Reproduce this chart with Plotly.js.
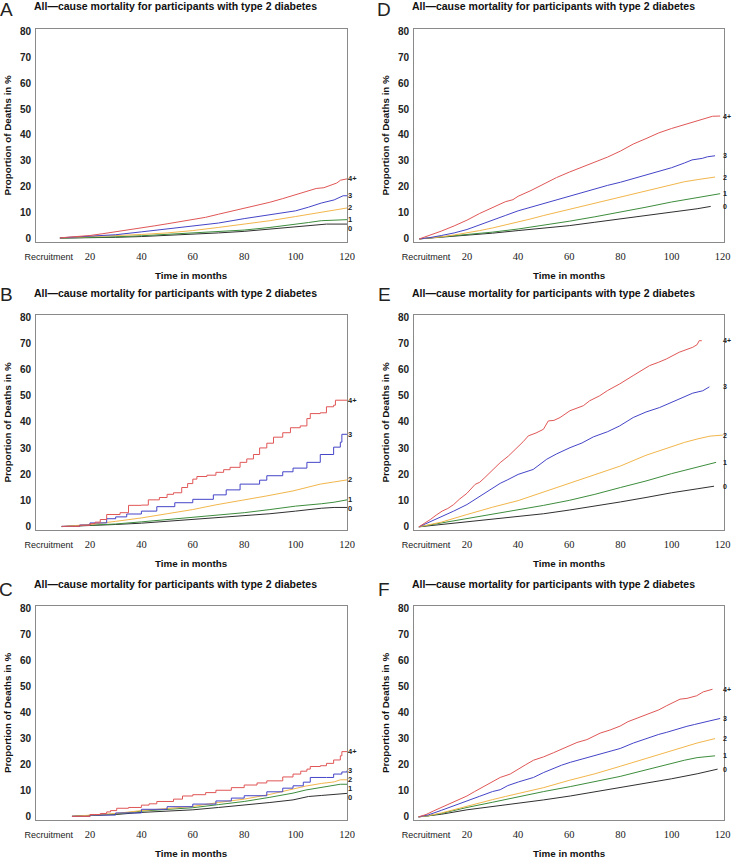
<!DOCTYPE html>
<html>
<head>
<meta charset="utf-8">
<script src="https://cdn.plot.ly/plotly-3.0.1.min.js"></script>
<style>html,body{margin:0;padding:0;background:#fff;}#chart{width:733px;height:858px;}</style>
</head>
<body>
<div id="chart"></div>
<script>
// ---------- data (months since baseline, % deaths) ----------
const MONTH_TICKS = [4, 20, 40, 60, 80, 100, 120];
const MONTH_TICK_TEXT = ['Recruitment', '20', '40', '60', '80', '100', '120'];
const PCT_TICKS = [0, 10, 20, 30, 40, 50, 60, 70, 80];
const GROUPS = ['4+', '3', '2', '1', '0'];
const PANEL_LETTERS = ['A', 'B', 'C', 'D', 'E', 'F'];
const TITLE_TEXT = 'All\u2014cause mortality for participants with type 2 diabetes';
const X_TITLE = 'Time in months';
const Y_TITLE = 'Proportion of Deaths in %';

// Panel A
const A_4p = [[8.3,0.4],[15,0.8],[20,1.3],[25,2.0],[30,2.7],[35,3.4],[40,4.2],[45,5.0],[50,5.8],[55,6.6],[60,7.4],[65,8.3],[70,9.5],[75,10.6],[80,11.8],[85,13.0],[90,14.1],[95,15.5],[100,17.0],[105,18.7],[108,19.4],[111,19.7],[114,20.6],[116,21.5],[117.5,22.6],[120,23.1]];
const A_3 = [[8.3,0.4],[20,1.0],[30,1.6],[40,2.7],[50,3.8],[60,5.0],[70,6.1],[80,7.8],[90,9.2],[95,9.9],[100,10.8],[105,12.2],[110,13.8],[115,15.0],[117,15.8],[118.5,16.6],[120,16.6]];
const A_2 = [[8.3,0.4],[20,0.8],[30,1.2],[40,1.7],[50,2.3],[60,3.2],[70,4.4],[80,5.7],[90,7.0],[100,8.6],[105,9.4],[110,10.3],[115,11.1],[118,11.7],[120,11.9]];
const A_1 = [[8.3,0.3],[20,0.5],[30,0.8],[40,1.2],[50,1.7],[60,2.3],[70,2.8],[80,3.4],[90,4.4],[100,5.5],[105,6.3],[110,7.0],[115,7.3],[120,7.4]];
const A_0 = [[8.3,0.3],[20,0.4],[30,0.6],[40,0.9],[50,1.3],[60,1.8],[70,2.3],[80,2.9],[90,3.7],[100,4.5],[110,5.4],[112,5.7],[120,5.7]];

// Panel B
const B_4p = [[9,0.2],[16,0.6],[20,1.2],[22,1.8],[24,2.8],[26.5,4.7],[31.7,5.4],[35,8.2],[40,8.3],[42.7,10.3],[47,11.2],[50,12.4],[52.5,13.0],[55.7,15.0],[58,16.5],[60,18.2],[61.6,19.2],[65.5,19.7],[69,20.8],[72,21.8],[74.5,22.7],[78.4,24.6],[81,25.9],[83.6,27.6],[86,30.1],[88.8,31.9],[91.4,34.2],[95,35.9],[98,37.8],[101.8,38.5],[104.4,41.3],[105.7,43.2],[109.6,43.5],[112,45.8],[114.8,46.4],[115.5,48.3],[120,48.3]];
const B_3 = [[9,0.2],[16,0.7],[20,1.5],[26.5,3.1],[30,3.8],[34.3,4.9],[40,6.0],[46,7.7],[53,9.2],[60,10.5],[68,12.2],[73,14.1],[78.4,16.3],[86,17.8],[88.8,19.5],[95,21.0],[99,22.4],[104.4,24.6],[109.6,27.6],[114.8,30.4],[117.4,32.3],[118,35.3],[120,35.3]];
const B_2 = [[9,0.1],[20,0.9],[30,2.1],[40,3.4],[50,5.0],[60,6.6],[69,8.4],[80,10.2],[88.8,11.8],[99,13.7],[104,15.0],[109.6,16.3],[114.8,17.1],[118.7,17.9],[120,17.9]];
const B_1 = [[9,0.1],[20,0.5],[30,1.1],[40,1.9],[50,2.8],[60,3.8],[70,4.6],[80,5.4],[90,6.6],[100,7.9],[110,8.8],[115,9.4],[120,10.3]];
const B_0 = [[9,0.1],[20,0.4],[30,0.9],[40,1.4],[50,2.1],[60,2.8],[70,3.4],[80,4.1],[90,5.0],[100,6.0],[105,6.6],[110,7.1],[115,7.4],[120,7.4]];

// Panel C
const C_4p = [[13,0.2],[20,0.9],[24,1.3],[26.5,1.9],[28,2.4],[30.4,3.3],[35,3.6],[40,4.5],[43,5.0],[46,5.9],[52.5,6.8],[56,8.0],[60,8.5],[65,9.3],[69,10.2],[75,11.2],[80,12.2],[85,13.0],[88.8,13.8],[95,15.3],[99,16.4],[102,17.5],[104.4,18.3],[105.7,19.3],[109.6,19.6],[112,20.5],[114.8,21.8],[117.4,23.4],[118,25.0],[120,25.0]];
const C_3 = [[13,0.2],[20,0.7],[30,1.5],[40,2.9],[50,3.9],[60,4.9],[69,6.1],[75,7.2],[80,8.1],[88.8,9.6],[95,11.0],[99,11.9],[103,13.3],[105.7,15.1],[112,15.1],[114.8,16.4],[118,17.2],[120,17.7]];
const C_2 = [[13,0.2],[20,0.6],[30,1.3],[40,2.4],[50,3.2],[60,4.0],[70,5.5],[80,6.8],[90,8.6],[99,10.6],[104,11.8],[110,12.8],[115,13.4],[117.4,14.2],[120,14.2]];
const C_1 = [[13,0.2],[20,0.5],[30,1.1],[40,2.2],[50,2.8],[60,3.5],[70,4.7],[80,5.9],[90,7.5],[99,9.1],[104,10.3],[110,11.2],[115,11.9],[117.4,12.5],[120,12.5]];
const C_0 = [[13,0.2],[20,0.4],[30,0.9],[40,1.7],[50,2.2],[60,2.7],[70,3.6],[80,4.5],[90,5.5],[99,6.5],[105,7.8],[110,8.2],[115,8.6],[120,9.0]];

// Panel D
const D_4p = [[1.4,0],[5,1.2],[10,3.0],[15,5.0],[20,7.2],[25,9.8],[30,12.2],[35,14.3],[38,15.1],[40,16.4],[45,18.6],[50,21.2],[55,23.6],[60,25.7],[65,27.6],[70,29.4],[75,31.5],[80,33.8],[85,36.5],[90,38.6],[95,40.8],[100,42.5],[105,44.0],[110,45.3],[113,46.5],[116,47.2],[119,47.3]];
const D_3 = [[1.4,0],[5,0.4],[10,1.3],[15,2.3],[20,3.6],[25,5.3],[30,7.2],[35,9.0],[40,10.8],[45,12.2],[50,13.6],[55,15.0],[60,16.3],[65,17.7],[70,19.3],[75,20.6],[80,21.8],[85,23.2],[90,24.6],[95,26.0],[100,27.4],[105,29.2],[108,30.4],[112,31.0],[114,31.6],[117,32.0]];
const D_2 = [[1.4,0],[5,0.3],[10,0.8],[15,1.5],[20,2.3],[25,3.2],[30,4.2],[35,5.3],[40,6.5],[45,7.7],[50,9.0],[55,10.2],[60,11.4],[65,12.5],[70,13.6],[75,14.8],[80,16.0],[85,17.3],[90,18.5],[95,19.8],[100,21.0],[105,22.0],[110,22.8],[114,23.4],[117,23.8]];
const D_1 = [[1.4,0],[10,0.7],[20,1.5],[30,2.6],[40,3.8],[50,5.2],[60,6.8],[70,8.5],[80,10.3],[90,12.2],[100,14.2],[110,15.8],[119,17.4]];
const D_0 = [[1.4,0],[10,0.6],[20,1.3],[30,2.2],[40,3.2],[50,4.1],[60,5.1],[70,6.4],[80,7.7],[90,9.0],[100,10.2],[110,11.6],[115.3,12.5]];

// Panel E
const E_4p = [[1.2,0],[3,1.0],[5.7,2.8],[8,4.5],[10.3,6.0],[12.5,7.0],[14.8,8.5],[17,10.5],[20,12.8],[23.2,16.2],[25,17.0],[27,18.8],[29,20.7],[31,22.6],[33,24.5],[36.2,27.0],[38,28.6],[40,30.6],[42,32.5],[44,34.7],[47,35.8],[49.9,37.2],[51.8,40.4],[54,40.6],[56.4,41.7],[60.3,44.3],[65.5,46.2],[68,48.1],[71.9,50.0],[75,52.0],[79.7,54.5],[85,57.7],[88,59.6],[91.4,61.5],[95,62.8],[97.9,64.0],[103,66.6],[105,67.4],[108.3,68.5],[110,69.5],[110.8,71.0],[111.8,71.0]];
const E_3 = [[1.2,0],[5.7,1.9],[10,3.8],[14.8,6.0],[20,8.5],[24,11.0],[27.8,13.6],[33,16.6],[36,18.0],[40,20.0],[45.9,21.9],[51.2,25.8],[55,27.8],[60.3,30.2],[65,32.0],[69.4,34.3],[75,36.3],[79.7,38.5],[85,41.7],[90,43.8],[95.3,45.5],[100,47.5],[103,48.7],[108.3,51.0],[112.2,51.9],[114.8,53.4]];
const E_2 = [[1.2,0],[10,1.8],[20,4.7],[30,7.5],[40,10.0],[50,13.3],[60,16.4],[70,19.8],[80,23.2],[90,27.3],[100,30.6],[105,32.2],[110,33.5],[115,34.6],[120,35.0]];
const E_1 = [[1.2,0],[10,1.5],[20,3.2],[30,4.8],[40,6.4],[50,8.2],[60,10.1],[70,12.4],[80,15.0],[90,17.5],[100,20.3],[110,22.8],[117.4,24.6]];
const E_0 = [[1.2,0],[10,0.9],[20,2.0],[30,2.9],[40,3.8],[50,5.0],[60,6.4],[70,7.9],[80,9.5],[90,11.2],[100,13.0],[110,14.5],[116.6,15.5]];

// Panel F
const F_4p = [[1.1,0],[4,0.9],[7,2.3],[10,3.6],[14.8,5.9],[20,8.0],[23,9.7],[26.5,11.6],[30,13.5],[33,15.1],[36.9,16.4],[40.2,18.5],[43,20.0],[46,21.7],[50,23.0],[53.9,24.6],[57,26.0],[60.4,27.3],[63,28.5],[66.9,29.6],[70,31.0],[72.1,32.1],[76,33.3],[79.9,34.8],[83,36.5],[85.1,37.3],[88,38.4],[91.6,39.6],[95,41.0],[98.1,42.6],[101,44.0],[103.3,45.1],[106,45.4],[109.8,46.4],[112.4,47.9],[114,48.4],[116,48.9]];
const F_3 = [[1.1,0],[5,0.8],[10,2.5],[15,4.2],[20,6.1],[25,7.9],[30,9.7],[33,10.4],[36,12.0],[40.2,13.4],[46,15.1],[50,17.0],[53.9,18.6],[57,19.8],[60.4,20.9],[65,22.2],[72.1,24.0],[76,25.2],[79.9,26.2],[85.1,28.3],[90,30.0],[95,31.6],[98.1,32.4],[103,34.0],[106,34.7],[109,35.4],[112,36.2],[115,36.8],[119,37.7]];
const F_2 = [[1.1,0],[5,0.5],[10,1.5],[15,2.8],[20,4.2],[25,5.5],[30,6.6],[35,7.8],[40,9.0],[50,11.2],[60,14.0],[70,16.5],[80,19.4],[90,22.4],[100,25.4],[105,26.9],[110,28.3],[117,30.0]];
const F_1 = [[1.1,0],[5,0.4],[10,1.3],[20,3.6],[30,5.6],[40.2,7.8],[50,9.7],[60.4,11.6],[70,13.5],[79.9,15.5],[90,18.0],[100,20.6],[105,21.7],[110,22.7],[117,23.4]];
const F_0 = [[1.1,0],[10,1.0],[20,2.7],[30,3.9],[40.2,5.1],[50,6.5],[60.4,8.0],[70,9.6],[79.9,11.2],[90,12.8],[100,14.6],[110,16.5],[118,18.3]];

const PANEL_SERIES = [
  [A_4p, A_3, A_2, A_1, A_0],
  [B_4p, B_3, B_2, B_1, B_0],
  [C_4p, C_3, C_2, C_1, C_0],
  [D_4p, D_3, D_2, D_1, D_0],
  [E_4p, E_3, E_2, E_1, E_0],
  [F_4p, F_3, F_2, F_1, F_0]
];

// ---------- styling / layout ----------
const W = 733, H = 858;
const COLORS = ['#e05656', '#4444c8', '#f2b64c', '#3d8d3d', '#303030'];
const STEPPED = [[false,false,false,false,false],[true,true,false,false,false],[true,true,false,false,false],
                 [false,false,false,false,false],[false,false,false,false,false],[false,false,false,false,false]];
const COLS = [{l:36, r:347, range:[-1, 120], labShift:0, labSize:7.5},
              {l:414, r:724, range:[-0.7, 120.5], labShift:-1, labSize:7}];
const ROWS = [{t:29, b:242, titleY:6, letterY:9.5}, {t:315, b:530, titleY:293, letterY:294}, {t:606, b:820, titleY:584, letterY:589}];
const PANEL_POS = [[0,0],[0,1],[0,2],[1,0],[1,1],[1,2]];
const SANS = 'Liberation Sans, Arial, sans-serif';
const SERIF = 'Liberation Serif, Times New Roman, serif';
const LABEL_GAP = 3.4; // minimum vertical gap between end labels, in % units

const px = x => x / W;
const py = y => 1 - y / H;

const traces = [];
const layout = {
  width: W, height: H,
  margin: {l:0, r:0, t:0, b:0},
  paper_bgcolor: '#ffffff', plot_bgcolor: '#ffffff',
  showlegend: false,
  annotations: []
};

PANEL_SERIES.forEach((series, i) => {
  const [ci, ri] = PANEL_POS[i];
  const col = COLS[ci], row = ROWS[ri];
  const n = i + 1;
  const xa = n === 1 ? 'x' : 'x' + n;
  const ya = n === 1 ? 'y' : 'y' + n;
  const xKey = n === 1 ? 'xaxis' : 'xaxis' + n;
  const yKey = n === 1 ? 'yaxis' : 'yaxis' + n;

  layout[xKey] = {
    domain: [px(col.l), px(col.r)], anchor: ya, range: col.range,
    showgrid: false, zeroline: false, showline: true, mirror: true,
    linecolor: '#8a8a8a', linewidth: 1, ticks: '',
    tickmode: 'array', tickvals: MONTH_TICKS,
    ticktext: MONTH_TICK_TEXT.map((t, k) => k === 0 ? '<span style="font-family:Liberation Sans;font-size:9px">' + t + '</span>' : t),
    tickfont: {family: SERIF, size: 10.5, color: '#222'},
    ticklabelstandoff: 4, fixedrange: true
  };
  layout[yKey] = {
    domain: [py(row.b), py(row.t)], anchor: xa, range: [-1.2, 80.8],
    showgrid: false, zeroline: false, showline: true, mirror: true,
    linecolor: '#8a8a8a', linewidth: 1, ticks: '',
    tickmode: 'array', tickvals: PCT_TICKS,
    tickfont: {family: SANS, size: 10, color: '#222', weight: 'bold'},
    ticklabelstandoff: 2, fixedrange: true
  };

  // end-label positions: last value of each series, spread apart so they do not collide
  const labY = series.map(s => s[s.length - 1][1]);
  for (let g = 1; g < labY.length; g++) {
    if (labY[g - 1] - labY[g] < LABEL_GAP) labY[g] = labY[g - 1] - LABEL_GAP;
  }

  // draw lowest group first, 4+ last
  for (let g = series.length - 1; g >= 0; g--) {
    const s = series[g];
    traces.push({
      type: 'scatter', mode: 'lines', xaxis: xa, yaxis: ya,
      x: s.map(p => p[0]), y: s.map(p => p[1]),
      line: {color: COLORS[g], width: 1, shape: STEPPED[i][g] ? 'hv' : 'linear'},
      hoverinfo: 'skip', cliponaxis: false
    });
    layout.annotations.push({
      xref: xa, yref: ya, x: 120, y: labY[g], xanchor: 'left', yanchor: 'middle',
      xshift: col.labShift, text: GROUPS[g], showarrow: false, borderpad: 0,
      font: {family: SANS, size: col.labSize, color: '#222', weight: 'bold'}
    });
  }

  // panel letter
  layout.annotations.push({
    xref: 'paper', yref: 'paper', x: px(col.l - 30), y: py(row.letterY),
    xanchor: 'center', yanchor: 'middle', text: PANEL_LETTERS[i], showarrow: false, borderpad: 0,
    font: {family: SANS, size: 19, color: '#222'}
  });
  // title
  layout.annotations.push({
    xref: 'paper', yref: 'paper', x: px(col.l - 4), y: py(row.titleY),
    xanchor: 'left', yanchor: 'middle', text: TITLE_TEXT, showarrow: false,
    font: {family: SANS, size: 10.5, color: '#111', weight: 'bold'}
  });
  // y-axis title
  layout.annotations.push({
    xref: 'paper', yref: 'paper', x: px(col.l - 29), y: py((row.t + row.b) / 2),
    xanchor: 'center', yanchor: 'middle', textangle: -90, text: Y_TITLE, showarrow: false,
    font: {family: SANS, size: 9.8, color: '#111', weight: 'bold'}
  });
  // x-axis title
  layout.annotations.push({
    xref: 'paper', yref: 'paper', x: px((col.l + col.r) / 2), y: py(row.b + 33),
    xanchor: 'center', yanchor: 'middle', text: X_TITLE, showarrow: false,
    font: {family: SANS, size: 9.8, color: '#111', weight: 'bold'}
  });
});

Plotly.newPlot('chart', traces, layout, {staticPlot: true, displayModeBar: false});
</script>
</body>
</html>
